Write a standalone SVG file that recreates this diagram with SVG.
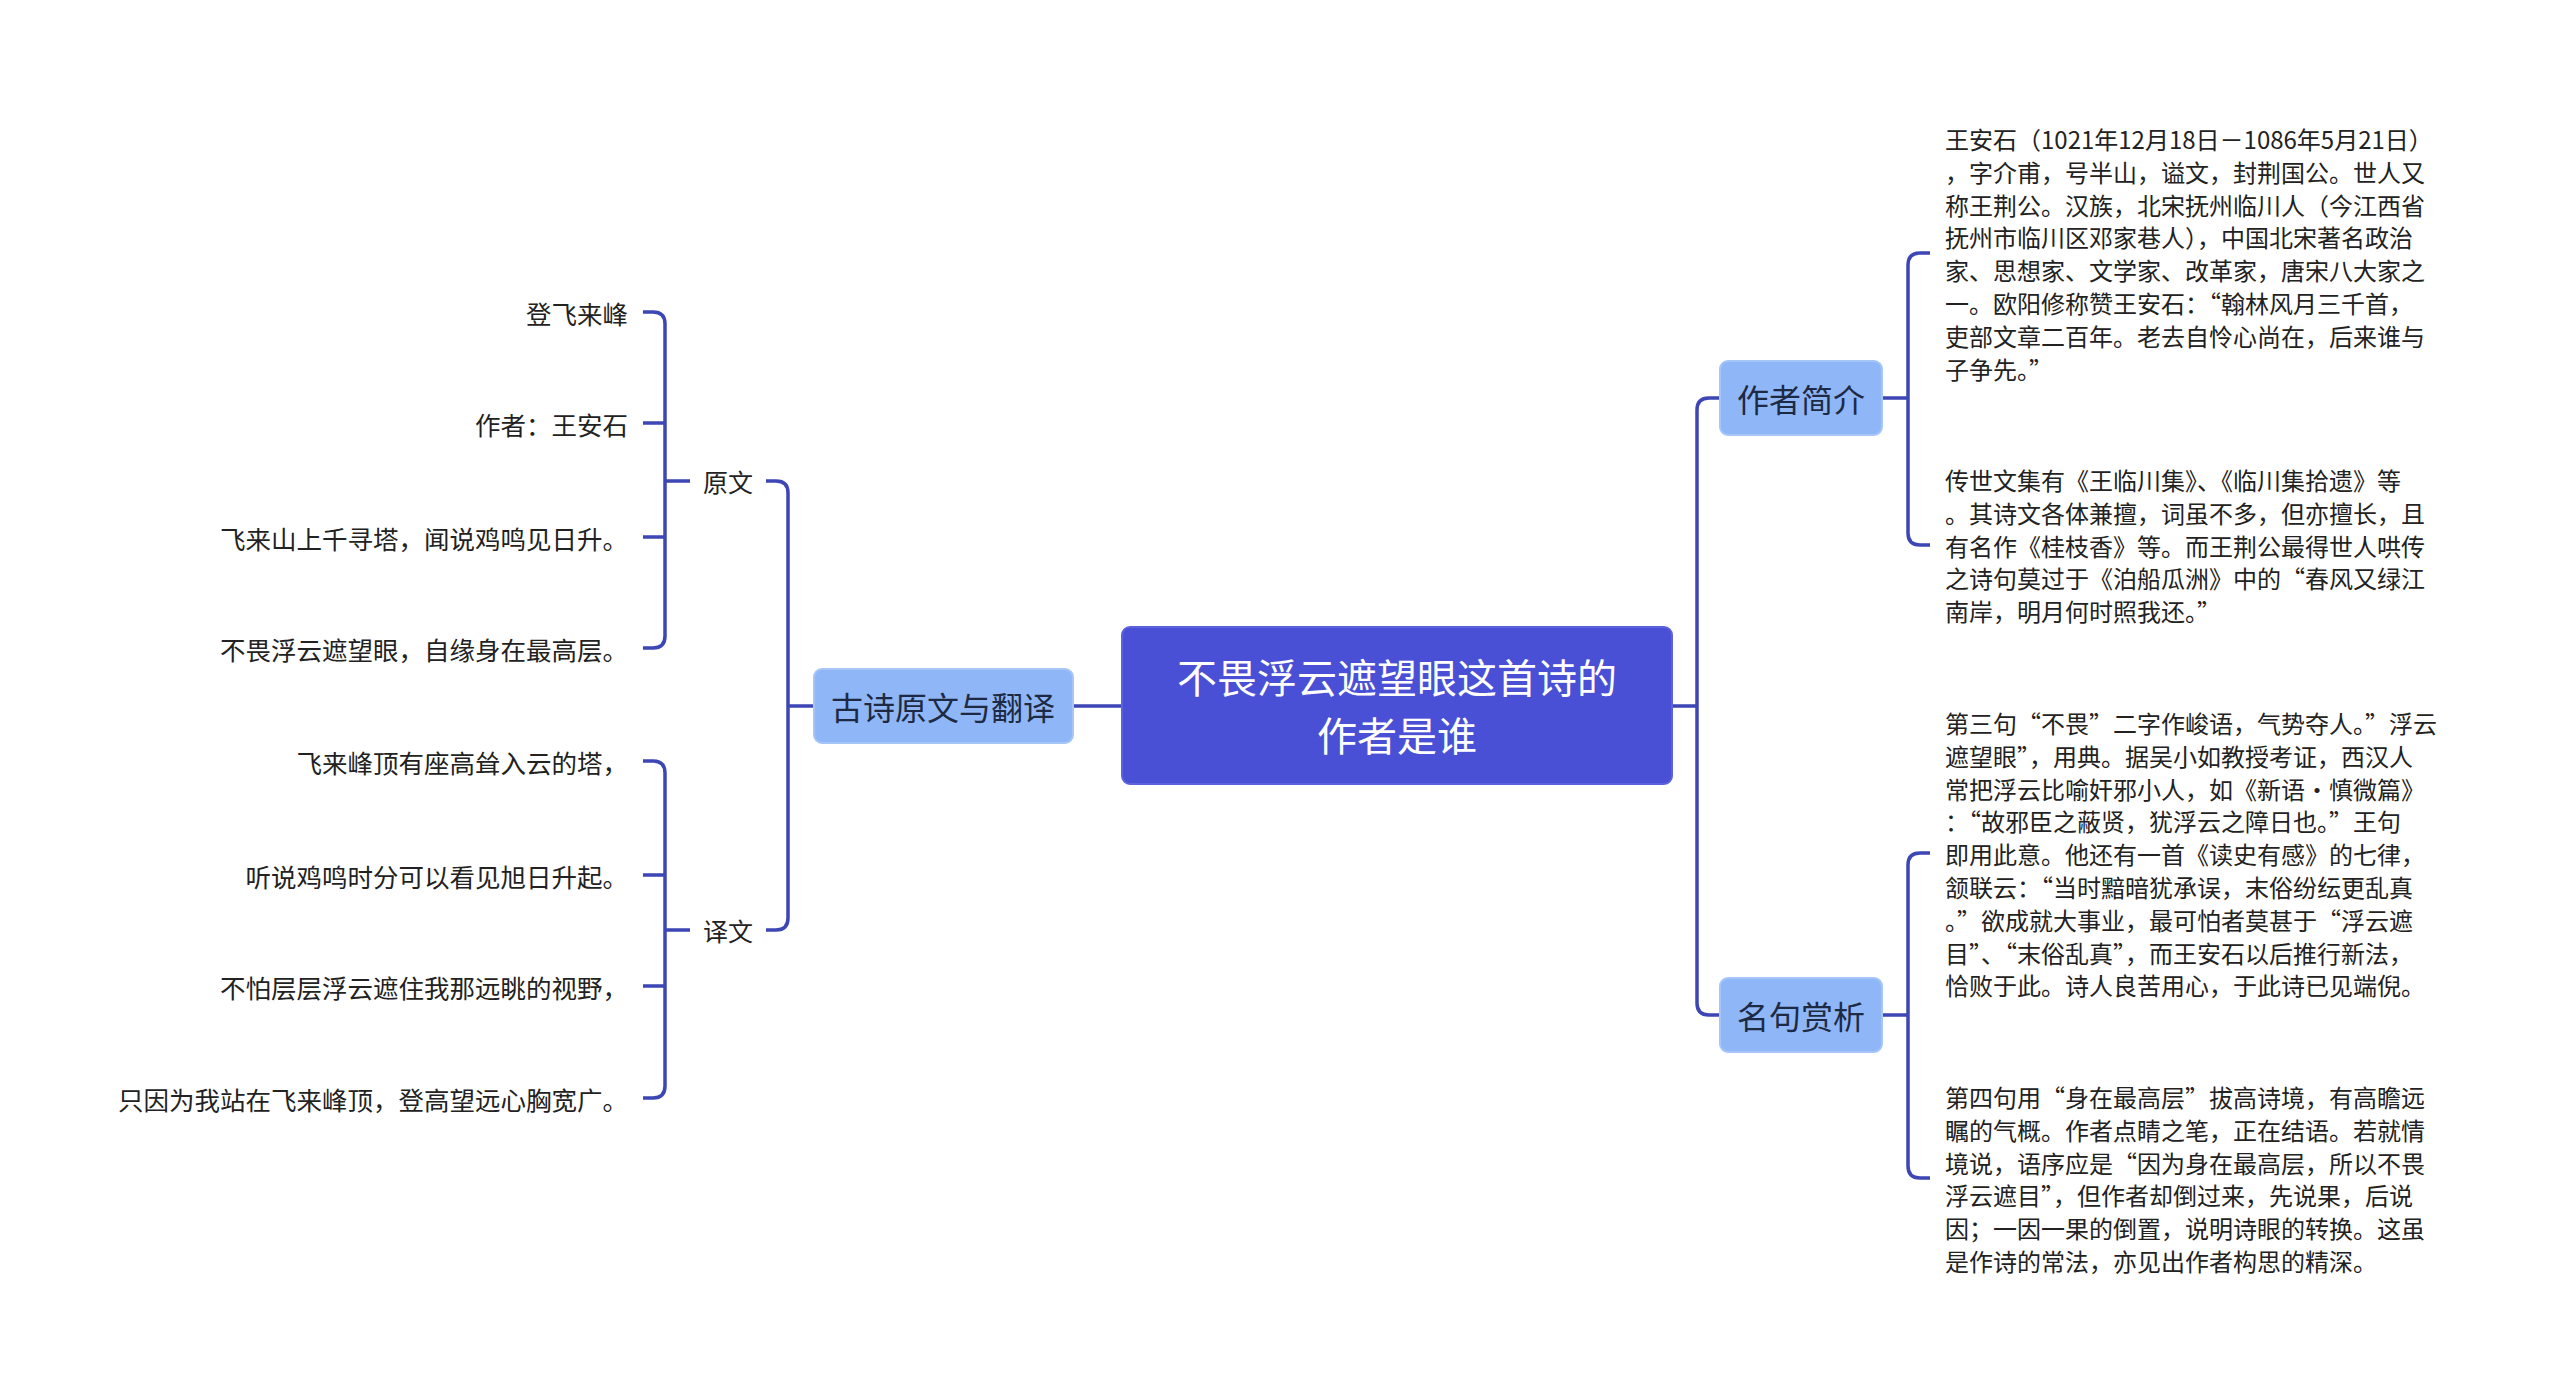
<svg xmlns="http://www.w3.org/2000/svg" width="2560" height="1390" viewBox="0 0 2560 1390">
<style>
text{font-family:"Noto Sans CJK SC","Noto Sans",sans-serif;dominant-baseline:central}
.c{fill:none;stroke:#3d46b5;stroke-width:3.5}
.leaf{font-size:24px;fill:#222}
.lr{font-size:25.5px;fill:#222;text-anchor:end}
.sub{font-size:25px;fill:#222;text-anchor:middle}
.b{fill:#8fb7f7;stroke:#a7c6f8;stroke-width:2}
.bt{font-size:32px;fill:#1e2a44;text-anchor:middle}
</style>
<rect width="2560" height="1390" fill="#fff"/>
<g id="connectors">
<path class="c" d="M1672 706H1697M1720 398H1709Q1697 398 1697 410V1003Q1697 1015 1709 1015H1720"/>
<path class="c" d="M1882 398H1908M1930 253H1920Q1908 253 1908 265V533Q1908 545 1920 545H1930"/>
<path class="c" d="M1882 1015H1908M1930 853H1920Q1908 853 1908 865V1166Q1908 1178 1920 1178H1930"/>
<path class="c" d="M1122 706H814M766 481H776Q788 481 788 493V918Q788 930 776 930H766M788 706H814"/>
<path class="c" d="M643 312H653Q665 312 665 324V636Q665 648 653 648H643M665 423H643M665 537H643M665 481H690"/>
<path class="c" d="M643 761H653Q665 761 665 773V1086Q665 1098 653 1098H643M665 875H643M665 986H643M665 930H690"/>
</g>
<g id="center"><rect x="1122" y="627" width="550" height="157" rx="8" fill="#4a50d6" stroke="#5c62de" stroke-width="2"/>
<text x="1397" y="676" font-size="40" fill="#fff" text-anchor="middle">不畏浮云遮望眼这首诗的</text>
<text x="1397" y="734" font-size="40" fill="#fff" text-anchor="middle">作者是谁</text></g>
<g id="n-gushi"><rect class="b" x="814" y="669" width="259" height="74" rx="8"/><text class="bt" x="943" y="706">古诗原文与翻译</text></g>
<g id="n-zuozhe"><rect class="b" x="1720" y="361" width="162" height="74" rx="8"/><text class="bt" x="1801" y="398">作者简介</text></g>
<g id="n-mingju"><rect class="b" x="1720" y="978" width="162" height="74" rx="8"/><text class="bt" x="1801" y="1015">名句赏析</text></g>
<g id="n-yuanwen"><text class="sub" x="728" y="481">原文</text></g>
<g id="n-yiwen"><text class="sub" x="728" y="930">译文</text></g>
<g id="left-leaves">
<text class="lr" x="628" y="312">登飞来峰</text>
<text class="lr" x="628" y="423">作者：王安石</text>
<text class="lr" x="628" y="537">飞来山上千寻塔，闻说鸡鸣见日升。</text>
<text class="lr" x="628" y="648">不畏浮云遮望眼，自缘身在最高层。</text>
<text class="lr" x="628" y="761">飞来峰顶有座高耸入云的塔，</text>
<text class="lr" x="628" y="875">听说鸡鸣时分可以看见旭日升起。</text>
<text class="lr" x="628" y="986">不怕层层浮云遮住我那远眺的视野，</text>
<text class="lr" x="628" y="1098">只因为我站在飞来峰顶，登高望远心胸宽广。</text>
</g>
<g id="p1" class="leaf">
<text class="leaf" x="1945" y="138">王安石（1021年12月18日－1086年5月21日）</text>
<text class="leaf" x="1945" y="171">，字介甫，号半山，谥文，封荆国公。世人又</text>
<text class="leaf" x="1945" y="204">称王荆公。汉族，北宋抚州临川人（今江西省</text>
<text class="leaf" x="1945" y="236">抚州市临川区邓家巷人），中国北宋著名政治</text>
<text class="leaf" x="1945" y="269">家、思想家、文学家、改革家，唐宋八大家之</text>
<text class="leaf" x="1945" y="302">一。欧阳修称赞王安石：“翰林风月三千首，</text>
<text class="leaf" x="1945" y="335">吏部文章二百年。老去自怜心尚在，后来谁与</text>
<text class="leaf" x="1945" y="368">子争先。”</text>
</g>
<g id="p2">
<text class="leaf" x="1945" y="479">传世文集有《王临川集》、《临川集拾遗》等</text>
<text class="leaf" x="1945" y="512">。其诗文各体兼擅，词虽不多，但亦擅长，且</text>
<text class="leaf" x="1945" y="545">有名作《桂枝香》等。而王荆公最得世人哄传</text>
<text class="leaf" x="1945" y="577">之诗句莫过于《泊船瓜洲》中的“春风又绿江</text>
<text class="leaf" x="1945" y="610">南岸，明月何时照我还。”</text>
</g>
<g id="p3">
<text class="leaf" x="1945" y="722">第三句“不畏”二字作峻语，气势夺人。”浮云</text>
<text class="leaf" x="1945" y="755">遮望眼”，用典。据吴小如教授考证，西汉人</text>
<text class="leaf" x="1945" y="788">常把浮云比喻奸邪小人，如《新语·慎微篇》</text>
<text class="leaf" x="1945" y="820">：“故邪臣之蔽贤，犹浮云之障日也。”王句</text>
<text class="leaf" x="1945" y="853">即用此意。他还有一首《读史有感》的七律，</text>
<text class="leaf" x="1945" y="886">颔联云：“当时黯暗犹承误，末俗纷纭更乱真</text>
<text class="leaf" x="1945" y="919">。”欲成就大事业，最可怕者莫甚于“浮云遮</text>
<text class="leaf" x="1945" y="952">目”、“末俗乱真”，而王安石以后推行新法，</text>
<text class="leaf" x="1945" y="984">恰败于此。诗人良苦用心，于此诗已见端倪。</text>
</g>
<g id="p4">
<text class="leaf" x="1945" y="1096">第四句用“身在最高层”拔高诗境，有高瞻远</text>
<text class="leaf" x="1945" y="1129">瞩的气概。作者点睛之笔，正在结语。若就情</text>
<text class="leaf" x="1945" y="1162">境说，语序应是“因为身在最高层，所以不畏</text>
<text class="leaf" x="1945" y="1194">浮云遮目”，但作者却倒过来，先说果，后说</text>
<text class="leaf" x="1945" y="1227">因；一因一果的倒置，说明诗眼的转换。这虽</text>
<text class="leaf" x="1945" y="1260">是作诗的常法，亦见出作者构思的精深。</text>
</g>
</svg>
